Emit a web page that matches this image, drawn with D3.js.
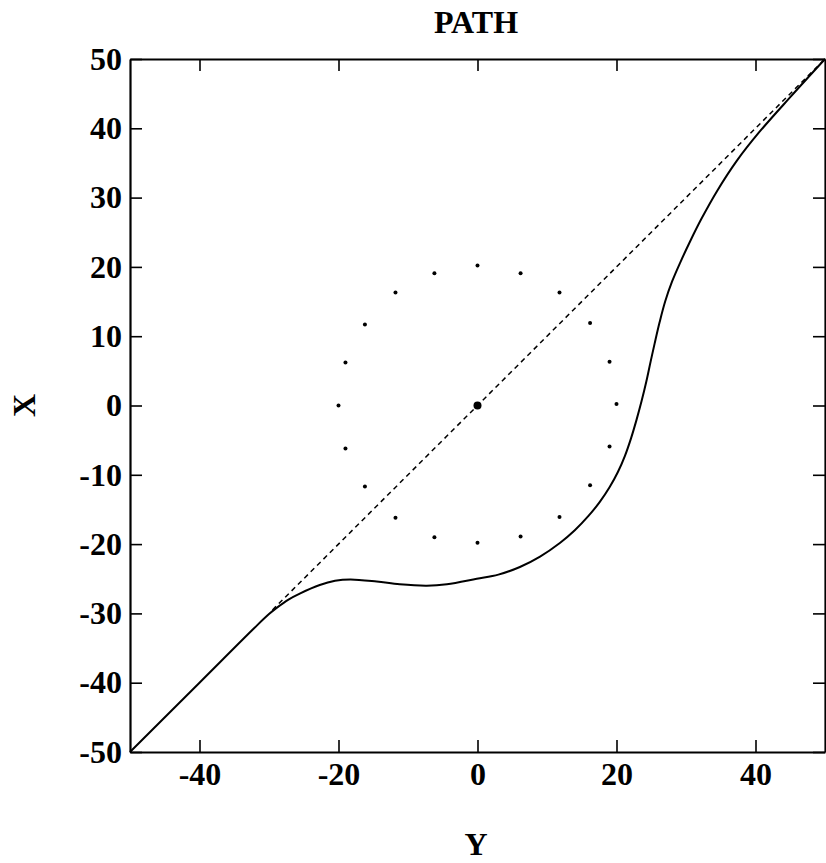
<!DOCTYPE html>
<html>
<head>
<meta charset="utf-8">
<script src="https://cdn.jsdelivr.net/npm/d3@7"></script>
<style>
  body { margin: 0; background: #fff; }
  text { font-family: "Liberation Serif", "Times New Roman", serif; font-weight: bold; }
</style>
</head>
<body>
<svg id="chart"></svg>
<script>
// path curve, horizontal (Y) and vertical (X) values
const pathY = [-50, -40, -32, -30, -28.9, -27.2, -25.5, -22.7, -20.5, -18.3, -14.5, -11.2, -7.3, -4.4, -0.1, 3, 6.1, 9, 11.9, 14.0, 16.0, 17.6, 19.0, 20.2, 21.2, 22.1, 22.9, 23.6, 24.3, 24.9, 25.5, 26.2, 27.0, 28.0, 29.2, 30.6, 32.2, 34.5, 37.3, 40.5, 45.0, 50];
const pathX = [-50, -40, -32, -30.1, -29.2, -28.0, -27.1, -25.9, -25.3, -25.1, -25.4, -25.8, -26.0, -25.8, -25.0, -24.4, -23.3, -21.8, -19.8, -18.0, -15.9, -13.9, -11.8, -9.6, -7.3, -4.7, -2.0, 0.6, 3.5, 6.3, 9.0, 12.0, 15.0, 17.9, 20.7, 23.7, 26.9, 31.0, 35.3, 39.4, 44.5, 50];

// dashed reference line
const refY = [-29.5, 50];
const refX = [-29.5, 50];

// ring of dots
const ringY = [0, 6.2, 11.8, 16.2, 19.0, 20.0, 19.0, 16.2, 11.8, 6.2, 0, -6.2, -11.8, -16.2, -19.0, -20.0, -19.0, -16.2, -11.8, -6.2];
const ringX = [20.2, 19.1, 16.3, 11.9, 6.3, 0.2, -5.9, -11.5, -16.1, -18.9, -19.8, -19.0, -16.2, -11.7, -6.2, 0, 6.2, 11.7, 16.3, 19.1];

// center
const centerY = [0];
const centerX = [0];

const xTicks = [-40, -20, 0, 20, 40];
const yTicks = [50, 40, 30, 20, 10, 0, -10, -20, -30, -40, -50];

const width = 826, height = 863;
const margin = { top: 59, right: 1, bottom: 111, left: 130 };
const innerW = width - margin.left - margin.right;
const innerH = height - margin.top - margin.bottom;

const svg = d3.select('#chart')
    .attr('width', width)
    .attr('height', height);

const chart = svg.append('g')
    .attr('transform', `translate(${margin.left}, ${margin.top})`);

const xscale = d3.scaleLinear().domain([-50, 50]).range([0, innerW]);
const yscale = d3.scaleLinear().domain([-50, 50]).range([innerH, 0]);

// axes, ticks pointing inward
const tick_len = 12;
const xaxis = d3.axisBottom(xscale).tickValues(xTicks).tickSizeInner(-tick_len).tickSizeOuter(0).tickPadding(10).tickFormat(d3.format('d'));
const yaxis = d3.axisLeft(yscale).tickValues(yTicks).tickSizeInner(-tick_len).tickSizeOuter(0).tickPadding(8).tickFormat(d3.format('d'));
const xaxisTop = d3.axisTop(xscale).tickValues(xTicks).tickSizeInner(-tick_len).tickSizeOuter(0).tickFormat('');
const yaxisRight = d3.axisRight(yscale).tickValues(yTicks).tickSizeInner(-tick_len).tickSizeOuter(0).tickFormat('');

const axisStyle = g => {
    g.selectAll('path').attr('stroke', '#000').attr('stroke-width', 2.2);
    g.selectAll('line').attr('stroke', '#000').attr('stroke-width', 1.6);
    g.selectAll('text')
        .attr('font-size', 32)
        .attr('font-family', '"Liberation Serif", serif')
        .attr('font-weight', 'bold')
        .attr('fill', '#000')
        .text(function () { return d3.select(this).text().replace('−', '-'); });
};

chart.append('g').attr('transform', `translate(0, ${innerH})`).call(xaxis).call(axisStyle);
chart.append('g').call(yaxis).call(axisStyle);
chart.append('g').call(xaxisTop).call(axisStyle);
chart.append('g').attr('transform', `translate(${innerW}, 0)`).call(yaxisRight).call(axisStyle);

// dashed line
const refData = refY.map((v, i) => ({ y: v, x: refX[i] }));
chart.append('path')
    .datum(refData)
    .attr('fill', 'none')
    .attr('stroke', '#000')
    .attr('stroke-width', 1.5)
    .attr('stroke-dasharray', '5,4')
    .attr('d', d3.line().x(d => xscale(d.y)).y(d => yscale(d.x)));

// solid path
const pathData = pathY.map((v, i) => ({ y: v, x: pathX[i] }));
chart.append('path')
    .datum(pathData)
    .attr('fill', 'none')
    .attr('stroke', '#000')
    .attr('stroke-width', 2)
    .attr('d', d3.line().curve(d3.curveCatmullRom).x(d => xscale(d.y)).y(d => yscale(d.x)));

// ring dots
const ringData = ringY.map((v, i) => ({ y: v, x: ringX[i] }));
chart.selectAll('circle.ring')
    .data(ringData)
    .join('circle')
    .attr('class', 'ring')
    .attr('r', 2)
    .attr('cx', d => xscale(d.y))
    .attr('cy', d => yscale(d.x))
    .attr('fill', '#000');

chart.selectAll('circle.center')
    .data(centerY.map((v, i) => ({ y: v, x: centerX[i] })))
    .join('circle')
    .attr('class', 'center')
    .attr('r', 4)
    .attr('cx', d => xscale(d.y))
    .attr('cy', d => yscale(d.x))
    .attr('fill', '#000');

// title and labels
svg.append('text')
    .attr('x', 476)
    .attr('y', 33)
    .attr('text-anchor', 'middle')
    .attr('font-size', 32)
    .text('PATH');

svg.append('text')
    .attr('x', 476)
    .attr('y', 855)
    .attr('text-anchor', 'middle')
    .attr('font-size', 32)
    .text('Y');

svg.append('text')
    .attr('transform', `translate(35, ${margin.top + innerH / 2}) rotate(-90)`)
    .attr('text-anchor', 'middle')
    .attr('font-size', 32)
    .text('X');
</script>
</body>
</html>
